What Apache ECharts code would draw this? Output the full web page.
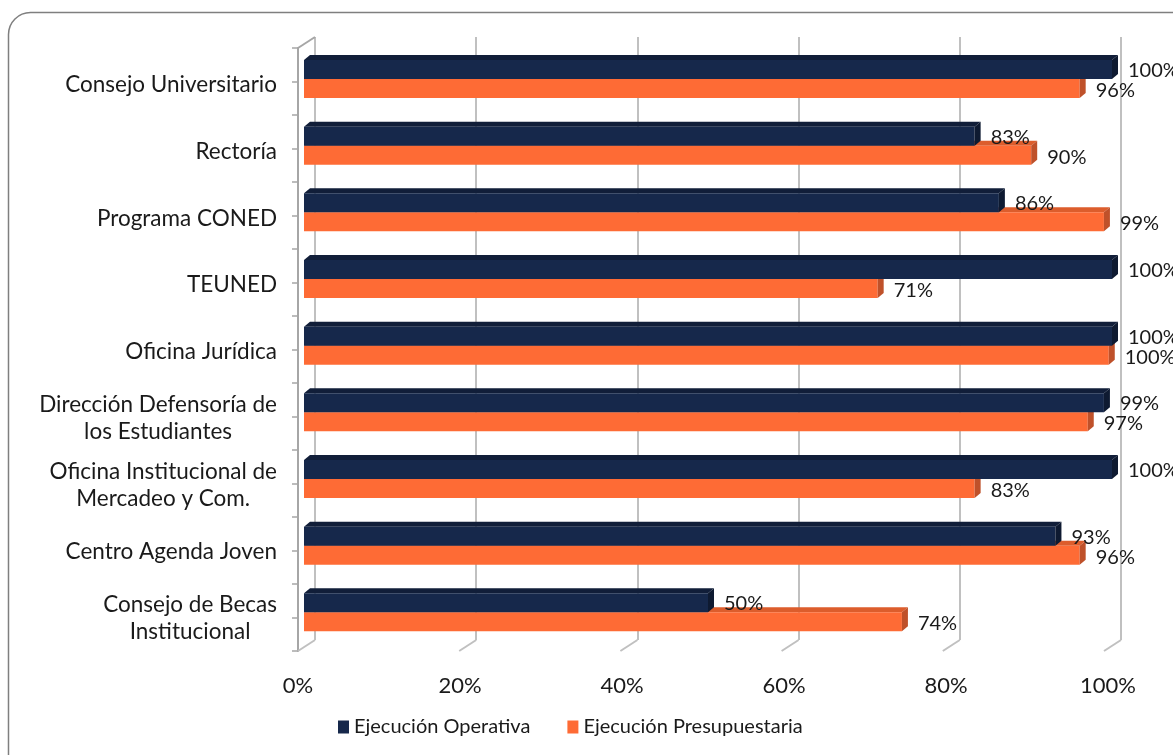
<!DOCTYPE html>
<html>
<head>
<meta charset="utf-8">
<script src="https://cdn.jsdelivr.net/npm/echarts@6/dist/echarts.min.js"></script>
<style>
  html, body { margin: 0; padding: 0; background: #fff; }
  #chart { width: 1173px; height: 755px; }
</style>
</head>
<body>
<div id="chart"></div>
<script>
// datos
var categories = [
  "Consejo Universitario",
  "Rectoría",
  "Programa CONED",
  "TEUNED",
  "Oficina Jurídica",
  "Dirección Defensoría de\nlos Estudiantes",
  "Oficina Institucional de\nMercadeo y Com.",
  "Centro Agenda Joven",
  "Consejo de Becas\nInstitucional"
];
var operativa = [100, 83, 86, 100, 100, 99, 100, 93, 50];
var presupuestaria = [96, 90, 99, 71, 99.6, 97, 83, 96, 74];
var xTicks = [0, 20, 40, 60, 80, 100];

var navy = { front: "#16284b", top: "#111e39", side: "#0e1a31" };
var orange = { front: "#fe6b35", top: "#dc5d2c", side: "#bf512a" };
var font = "Lato, 'Open Sans', sans-serif";
var dx = 6, dy = -5, barH = 19;

var chart = echarts.init(document.getElementById("chart"));

// barras con cara superior y lateral (efecto 3D)
function bar3d(col, upper) {
  return function (params, api) {
    var cat = api.value(0), val = api.value(1);
    var p0 = api.coord([0, cat]);
    var p1 = api.coord([val, cat]);
    var x0 = p0[0], x1 = p1[0], c = p0[1];
    var yt = upper ? c - barH : c;
    var yb = yt + barH;
    return {
      type: "group",
      children: [
        { type: "polygon", shape: { points: [[x0, yt], [x0 + dx, yt + dy], [x1 + dx, yt + dy], [x1, yt]] },
          style: { fill: col.top } },
        { type: "rect", shape: { x: x0, y: yt, width: x1 - x0, height: barH },
          style: { fill: col.front } },
        { type: "polygon", shape: { points: [[x1, yt], [x1 + dx, yt + dy], [x1 + dx, yb + dy], [x1, yb]] },
          style: { fill: col.side } },
        { type: "text", z2: 10,
          style: { text: Math.round(val) + "%", x: x1 + dx + 10, y: (yt + yb) / 2 + (upper ? 1 : 2),
            verticalAlign: "middle", align: "left", fill: "#1a1a1a", font: "20px " + font } }
      ]
    };
  };
}

// lineas del piso y pared izquierda
function floorLines(params, api) {
  var v = api.value(0);
  var b = api.coord([v, 0]);
  var children = [
    { type: "line", shape: { x1: b[0], y1: b[1], x2: b[0] - 17, y2: b[1] + 11 },
      style: { stroke: "#c0c0c0", lineWidth: 2 } }
  ];
  if (v === 0) {
    var t = api.coord([v, 1]);
    children.push({ type: "line", shape: { x1: t[0], y1: t[1], x2: t[0] - 17, y2: t[1] + 11 },
      style: { stroke: "#a6a6a6", lineWidth: 2 } });
  }
  return { type: "group", children: children };
}

var option = {
  backgroundColor: "#fff",
  animation: false,
  graphic: [{
    type: "rect", silent: true,
    shape: { x: 8.5, y: 12.5, width: 1400, height: 900, r: 22 },
    style: { fill: "none", stroke: "#7f7f7f", lineWidth: 1.5 }
  }],
  legend: {
    left: 333, top: 712,
    icon: "rect", itemWidth: 11, itemHeight: 13, itemGap: 37,
    textStyle: { fontFamily: font, fontSize: 20, color: "#1a1a1a" },
    data: ["Ejecución Operativa", "Ejecución Presupuestaria"]
  },
  grid: [
    { left: 315, right: 52, top: 37, bottom: 115 },      // pared del fondo
    { left: 298, right: 65, top: 48, bottom: 104 },      // eje frontal
    { left: 304, right: 61, top: 45.7, bottom: 109.3 },  // barras
    { left: 298, right: 65, top: 51.7, bottom: 103.3 }   // etiquetas categorias
  ],
  xAxis: [
    { gridIndex: 0, type: "value", min: 0, max: 100, interval: 20,
      axisLine: { show: false }, axisTick: { show: false }, axisLabel: { show: false },
      splitLine: { show: true, lineStyle: { color: "#c0c0c0", width: 2 } } },
    { gridIndex: 1, type: "value", min: 0, max: 100, interval: 20,
      axisLine: { show: false }, axisTick: { show: false }, splitLine: { show: false },
      axisLabel: { formatter: "{value}%", margin: 24, fontFamily: font, fontSize: 22, color: "#1a1a1a" } },
    { gridIndex: 2, type: "value", min: 0, max: 100, show: false },
    { gridIndex: 3, type: "value", min: 0, max: 100, show: false }
  ],
  yAxis: [
    { gridIndex: 0, type: "value", min: 0, max: 1, show: false },
    { gridIndex: 1, type: "value", min: 0, max: 18, interval: 1,
      axisLine: { show: true, lineStyle: { color: "#a6a6a6", width: 2 } },
      axisTick: { show: true, length: 6, lineStyle: { color: "#a6a6a6", width: 1.5 } },
      axisLabel: { show: false }, splitLine: { show: false } },
    { gridIndex: 2, type: "category", inverse: true, data: categories, show: false },
    { gridIndex: 3, type: "category", inverse: true, data: categories,
      axisLine: { show: false }, axisTick: { show: false },
      axisLabel: {
        margin: 21, fontFamily: font, fontSize: 22.5, color: "#1a1a1a", lineHeight: 27,
        formatter: function (v) {
          return v.split("\n").map(function (s) { return "{c|" + s + "}"; }).join("\n");
        },
        rich: { c: { align: "center", fontFamily: font, fontSize: 22.5, color: "#1a1a1a", lineHeight: 27 } }
      } }
  ],
  series: [
    { type: "custom", xAxisIndex: 0, yAxisIndex: 0, silent: true,
      renderItem: floorLines, encode: { x: 0 },
      data: xTicks.map(function (v) { return [v]; }) },
    { name: "Ejecución Presupuestaria", type: "custom", xAxisIndex: 2, yAxisIndex: 2,
      itemStyle: { color: orange.front }, renderItem: bar3d(orange, false),
      encode: { x: 1, y: 0 },
      data: presupuestaria.map(function (v, i) { return [i, v]; }) },
    { name: "Ejecución Operativa", type: "custom", xAxisIndex: 2, yAxisIndex: 2,
      itemStyle: { color: navy.front }, renderItem: bar3d(navy, true),
      encode: { x: 1, y: 0 },
      data: operativa.map(function (v, i) { return [i, v]; }) }
  ]
};
chart.setOption(option);
</script>
</body>
</html>
